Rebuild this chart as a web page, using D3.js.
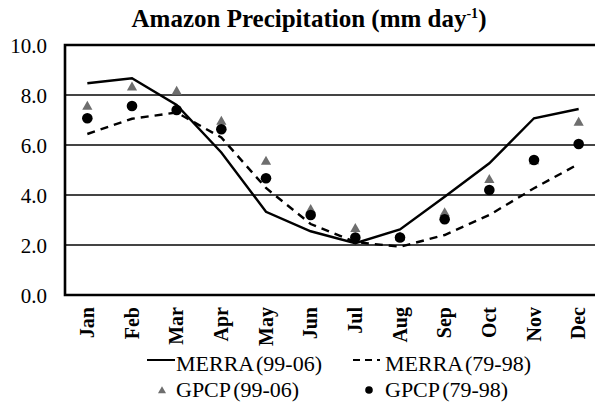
<!DOCTYPE html>
<html>
<head>
<meta charset="utf-8">
<title>Amazon Precipitation</title>
<script src="https://d3js.org/d3.v7.min.js"></script>
<style>
body { margin: 0; background: #fff; }
svg text { font-family: "Liberation Serif", "Times New Roman", Times, "DejaVu Serif", serif; fill: #000; }
</style>
</head>
<body>
<script>
var months = ["Jan","Feb","Mar","Apr","May","Jun","Jul","Aug","Sep","Oct","Nov","Dec"];
var merra9906 = [8.47, 8.67, 7.6, 5.7, 3.33, 2.55, 2.07, 2.62, 3.93, 5.27, 7.07, 7.44];
var merra7998 = [6.44, 7.05, 7.3, 6.3, 4.28, 2.84, 2.12, 1.93, 2.4, 3.2, 4.27, 5.24];
var gpcp9906 = [7.53, 8.3, 8.13, 6.93, 5.33, 3.4, 2.64, 2.3, 3.27, 4.6, 5.35, 6.89];
var gpcp7998 = [7.07, 7.56, 7.4, 6.63, 4.67, 3.2, 2.3, 2.3, 3.03, 4.2, 5.4, 6.04];
var yTicks = [0, 2, 4, 6, 8, 10];

var w = 595, h = 412;
var mLeft = 65, mRight = 601, mTop = 45, mBottom = 295;

var svg = d3.select("body").append("svg")
  .attr("width", w).attr("height", h);

var x = d3.scaleBand().domain(months).range([mLeft, mRight]);
var y = d3.scaleLinear().domain([0, 10]).range([mBottom, mTop]);

// title
var title = svg.append("text")
  .attr("x", 309).attr("y", 27)
  .attr("text-anchor", "middle")
  .style("font-size", "25px").style("font-weight", "bold");
title.append("tspan").text("Amazon Precipitation (mm day");
title.append("tspan").text("-1").attr("dy", -9).style("font-size", "14px");
title.append("tspan").text(")").attr("dy", 9);

// grid lines
svg.append("g").selectAll("line")
  .data(yTicks.filter(function(d){ return d > 0 && d < 10; }))
  .enter().append("line")
  .attr("x1", mLeft).attr("x2", w)
  .attr("y1", function(d){ return y(d); }).attr("y2", function(d){ return y(d); })
  .attr("stroke", "#444").attr("stroke-width", 2);

// frame
svg.append("path")
  .attr("d", "M" + w + "," + y(10) + "H" + mLeft + "V" + y(0) + "H" + w)
  .attr("fill", "none").attr("stroke", "#000").attr("stroke-width", 2.6);

// y axis labels
var yAxis = d3.axisLeft(y).tickValues(yTicks).tickSize(0).tickPadding(18)
  .tickFormat(d3.format(".1f"));
svg.append("g").attr("transform", "translate(" + mLeft + ",0)").call(yAxis)
  .call(function(g){ g.select(".domain").remove(); })
  .selectAll("text").style("font-size", "21px").attr("dy", "0.36em");

// x axis labels
var xAxis = d3.axisBottom(x).tickSize(0).tickPadding(0);
svg.append("g").attr("transform", "translate(0," + mBottom + ")").call(xAxis)
  .call(function(g){ g.select(".domain").remove(); })
  .selectAll("text")
  .attr("transform", "rotate(-90)")
  .attr("x", -12).attr("y", 0).attr("dy", "0.33em")
  .attr("text-anchor", "end")
  .style("font-size", "20px").style("font-weight", "bold");

svg.selectAll("g").attr("font-family", null).attr("font-size", null);

function cx(d, i){ return x(months[i]) + x.bandwidth() / 2; }

var line = d3.line()
  .x(function(d, i){ return cx(d, i); })
  .y(function(d){ return y(d); });

svg.append("path").datum(merra9906).attr("d", line)
  .attr("fill", "none").attr("stroke", "#000").attr("stroke-width", 2.4);
svg.append("path").datum(merra7998).attr("d", line)
  .attr("fill", "none").attr("stroke", "#000").attr("stroke-width", 2.4)
  .attr("stroke-dasharray", "8,6");

var tri = d3.symbol().type(d3.symbolTriangle).size(45);
svg.append("g").selectAll("path").data(gpcp9906).enter().append("path")
  .attr("d", tri)
  .attr("transform", function(d, i){ return "translate(" + cx(d, i) + "," + y(d) + ")"; })
  .attr("fill", "#6e6e6e");

svg.append("g").selectAll("circle").data(gpcp7998).enter().append("circle")
  .attr("cx", cx).attr("cy", function(d){ return y(d); })
  .attr("r", 5.3).attr("fill", "#000");

// legend
var lg = svg.append("g").style("font-size", "22px").style("word-spacing", "-2.5px");
lg.append("line").attr("x1", 147).attr("x2", 175).attr("y1", 360).attr("y2", 360)
  .attr("stroke", "#000").attr("stroke-width", 2);
lg.append("text").attr("x", 176).attr("y", 371).text("MERRA (99-06)");
lg.append("line").attr("x1", 353).attr("x2", 380).attr("y1", 360).attr("y2", 360)
  .attr("stroke", "#000").attr("stroke-width", 2).attr("stroke-dasharray", "7,5");
lg.append("text").attr("x", 385).attr("y", 371).text("MERRA (79-98)");
lg.append("path").attr("d", d3.symbol().type(d3.symbolTriangle).size(28))
  .attr("transform", "translate(162,391)").attr("fill", "#6e6e6e");
lg.append("text").attr("x", 176).attr("y", 397).text("GPCP (99-06)");
lg.append("circle").attr("cx", 369).attr("cy", 390).attr("r", 3.8).attr("fill", "#000");
lg.append("text").attr("x", 385).attr("y", 397).text("GPCP (79-98)");
</script>
</body>
</html>
